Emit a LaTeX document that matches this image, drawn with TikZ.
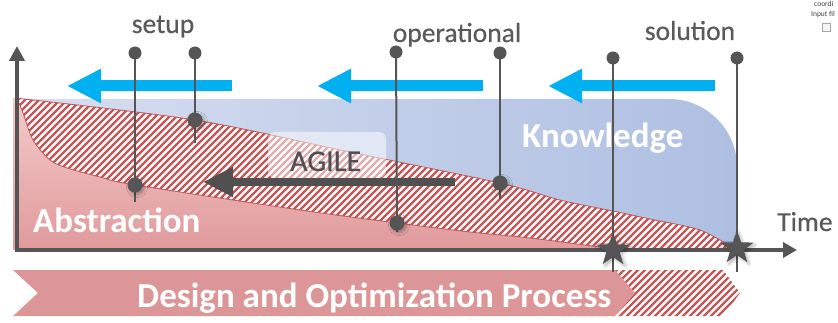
\documentclass[tikz,border=0pt]{standalone}
\usepackage{fontspec}
\setmainfont{Carlito}
\newfontfamily\labelfont[FakeBold=0.5]{Carlito}
\usetikzlibrary{arrows.meta,shapes.geometric,shadows.blur}

\definecolor{pingray}{HTML}{555555}
\definecolor{labelgray}{HTML}{5A5A5A}
\definecolor{agilegray}{HTML}{505050}
\definecolor{cyanarrow}{HTML}{00B0F0}
\definecolor{hatchred}{HTML}{C65656}
\definecolor{knowL}{HTML}{D8DFF0}
\definecolor{knowR}{HTML}{AEBFE2}
\definecolor{abstrTop}{HTML}{F4CBCB}
\definecolor{abstrBot}{HTML}{E09A9C}
\definecolor{bannerpink}{HTML}{DC9698}

% upper and lower edge of the hatched transition band
\def\bandpath{plot[smooth,tension=0.5] coordinates {(15,98) (195,120) (350,152) (500,183) (560,200) (613,211) (650,219) (700,230) (735,249)}
  -- (620,250)
  -- plot[smooth,tension=0.5] coordinates {(620,250) (600,247) (530,238) (470,232) (397,223) (300,210) (135,185) (100,177) (67,168) (50,160) (33,140) (23,113) (17,98)} -- cycle}
\def\bannerfull{(13,270) -- (723,270) -- (740,293) -- (723,316) -- (13,316) -- (38,293) -- cycle}
\def\bannerpart{(13,270) -- (615,270) -- (635,293) -- (615,316) -- (13,316) -- (38,293) -- cycle}

\tikzset{
  pinline/.style={draw=pingray, line width=2pt},
  pinhead/.style={circle, fill=pingray, minimum size=13pt, inner sep=0pt},
  pinknot/.style={circle, fill=pingray, minimum size=15pt, inner sep=0pt,
    blur shadow={shadow xshift=2pt, shadow yshift=-2pt, shadow opacity=30, shadow blur radius=3pt}},
  milestone/.style={star, star points=5, star point ratio=2.5, minimum size=35pt, inner sep=0pt, fill=pingray,
    blur shadow={shadow xshift=2pt, shadow yshift=-2pt, shadow opacity=30, shadow blur radius=3pt}},
  flowarrow/.style={draw=cyanarrow, line width=11pt, -{Triangle[length=34pt,width=32pt]}},
  agilearrow/.style={draw=agilegray, line width=8pt, -{Triangle[length=30pt,width=28pt]}},
  axisline/.style={draw=pingray, line width=4.5pt,
    {Triangle[length=15pt,width=15pt]}-{Triangle[length=14pt,width=15pt]}},
  hatchline/.style={draw=hatchred, line width=2.3pt},
  phase/.style={font=\labelfont\fontsize{27.5}{30}\selectfont, text=labelgray, inner sep=0pt},
  areatitle/.style={font=\bfseries\fontsize{35}{38}\selectfont, text=white, inner sep=0pt},
}

\begin{document}
\begin{tikzpicture}[x=1pt,y=-1pt]
\useasboundingbox (0,0) rectangle (838,323);

% knowledge area with rounded upper right corner
\shade[left color=knowL,right color=knowR]
  (13,250) -- (13,99) -- (669,99) .. controls (706.5,99) and (737,129.5) .. (737,167) -- (737,250) -- cycle;

% abstraction area
\shade[top color=abstrTop,bottom color=abstrBot]
  plot[smooth,tension=0.5] coordinates {(15,98) (195,120) (350,152) (500,183) (560,200) (613,211) (650,219) (700,230) (735,249)}
  -- (735,250) -- (13,250) -- (13,98) -- cycle;

% hatched transition band
\fill[white] \bandpath;
\begin{scope}
  \clip \bandpath;
  \foreach \i in {-170,-163,...,740} \draw[hatchline] (\i,260) -- ++(200,-200);
\end{scope}
\draw[hatchred, line width=0.8pt] \bandpath;

% process banner
\fill[white] \bannerfull;
\begin{scope}
  \clip \bannerfull;
  \foreach \i in {560,567,...,760} \draw[hatchline] (\i,320) -- ++(60,-60);
\end{scope}
\fill[bannerpink] \bannerpart;
\node[areatitle, anchor=base west] (process) at (137,307) {Design and Optimization Process};

% area titles
\node[areatitle, anchor=base west] (abstraction) at (33,233) {Abstraction};
\node[areatitle, anchor=base west] (knowledge) at (522,148) {Knowledge};

% agile label and arrow
\fill[white, opacity=0.5, rounded corners=7pt] (268,132) rectangle (386,178);
\node[anchor=base west, font=\labelfont\fontsize{30}{33}\selectfont, text=agilegray, inner sep=0pt] (agile) at (290,171) {AGILE};
\coordinate (agileS) at (455,182);
\coordinate (agileE) at (203,182);
\draw[agilearrow] (agileS) -- (agileE);

% knowledge flow arrows
\coordinate (f1s) at (232,86); \coordinate (f1e) at (67,86);
\coordinate (f2s) at (483,86); \coordinate (f2e) at (317,86);
\coordinate (f3s) at (715,86); \coordinate (f3e) at (548,86);
\draw[flowarrow] (f1s) -- (f1e);
\draw[flowarrow] (f2s) -- (f2e);
\draw[flowarrow] (f3s) -- (f3e);

% axes
\coordinate (ytop) at (17,46);
\coordinate (xend) at (797,250);
\draw[axisline] (ytop) |- (xend);
\node[phase, anchor=base west] (time) at (777,231) {Time};

% phase pins
\coordinate (su1t) at (135,53);  \coordinate (su1m) at (135,185); \coordinate (su1e) at (135,202);
\coordinate (su2t) at (195,53);  \coordinate (su2m) at (195,120); \coordinate (su2e) at (195,143);
\coordinate (op1t) at (396,52);  \coordinate (op1m) at (397,223); \coordinate (op1e) at (397,232);
\coordinate (op2t) at (500,53);  \coordinate (op2m) at (500,183); \coordinate (op2e) at (500,199);
\coordinate (so1t) at (613,58);  \coordinate (so1m) at (613,250); \coordinate (so1e) at (613,272);
\coordinate (so2t) at (737,58);  \coordinate (so2m) at (737,248); \coordinate (so2e) at (737,272);

\foreach \p in {su1,su2,op1,op2,so1,so2} \draw[pinline] (\p t) -- (\p e);

\node[pinhead] (su1top) at (su1t) {};
\node[pinhead] (su2top) at (su2t) {};
\node[pinhead] (op1top) at (op1t) {};
\node[pinhead] (op2top) at (op2t) {};
\node[pinhead] (so1top) at (so1t) {};
\node[pinhead] (so2top) at (so2t) {};

\node[pinknot] (su1mark) at (su1m) {};
\node[pinknot] (su2mark) at (su2m) {};
\node[pinknot] (op1mark) at (op1m) {};
\node[pinknot] (op2mark) at (op2m) {};
\node[milestone] (so1mark) at (so1m) {};
\node[milestone] (so2mark) at (so2m) {};

% phase labels
\node[phase, anchor=base] (setup) at (163,33) {setup};
\node[phase, anchor=base] (operational) at (457,42) {operational};
\node[phase, anchor=base] (solution) at (690,40) {solution};

% corner of a neighbouring window
\node[anchor=base west, font=\fontsize{7.5}{9}\selectfont, text=black!75, inner sep=0pt] (coordtxt) at (814,7) {coordi};
\node[anchor=base west, font=\fontsize{7.5}{9}\selectfont, text=black!75, inner sep=0pt] (inputtxt) at (811,17) {Input fil};
\node[draw=black!35, fill=black!4, minimum size=8pt, inner sep=0pt] (icon) at (826.5,27.5) {};
\end{tikzpicture}
\end{document}
